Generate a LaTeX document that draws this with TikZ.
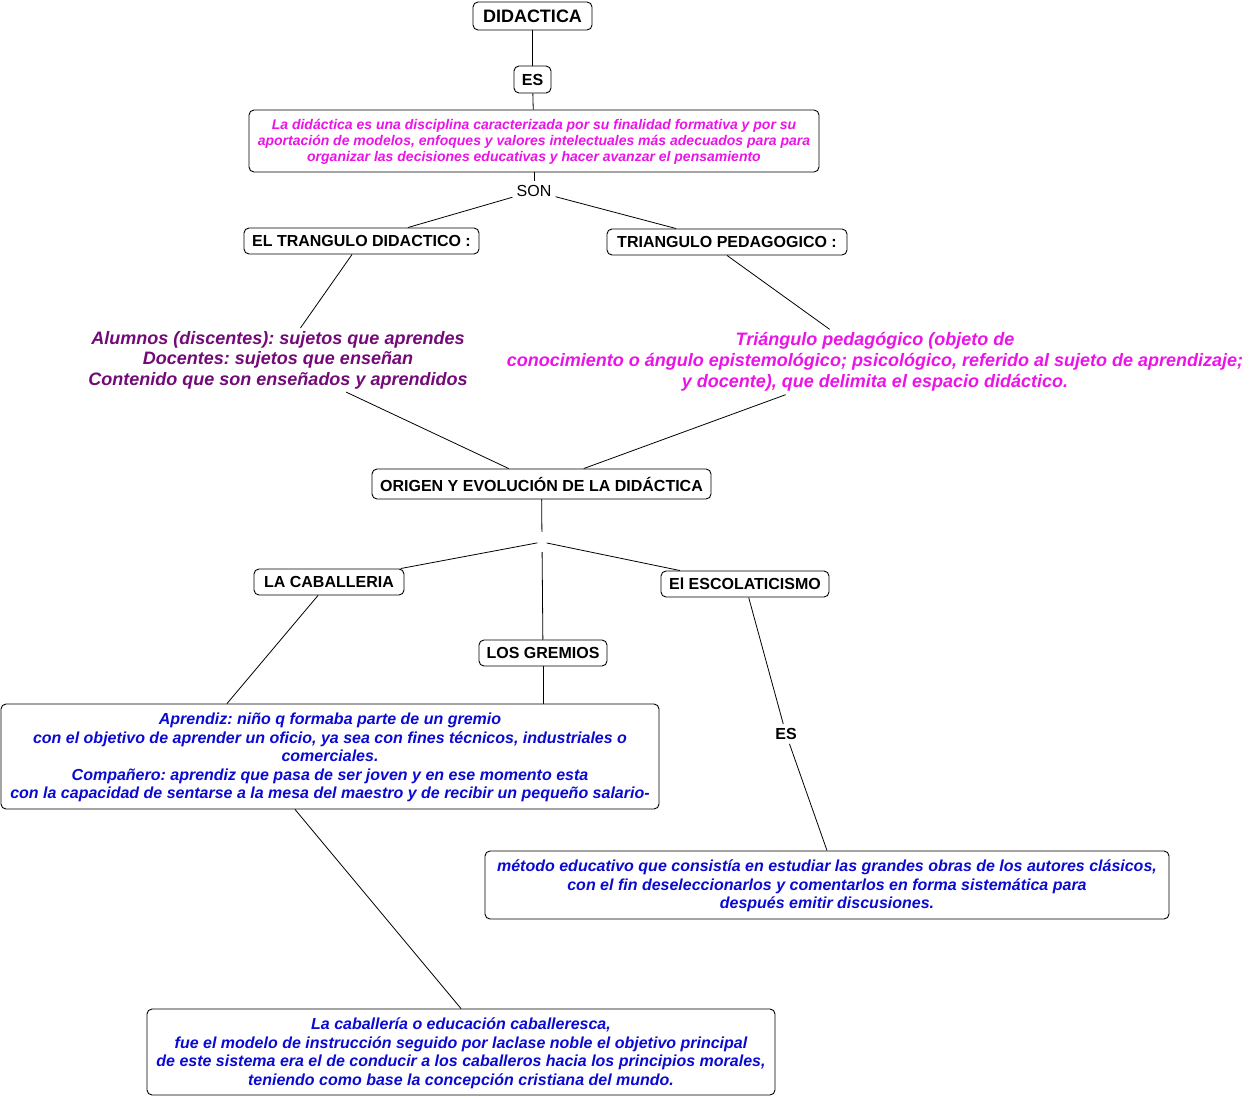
\documentclass[tikz,border=0pt]{standalone}
\usepackage{fontspec}
\setmainfont{Liberation Sans}
\frenchspacing
\definecolor{pinkc}{RGB}{235,20,230}
\definecolor{purp}{RGB}{115,10,120}
\definecolor{bluec}{RGB}{10,10,210}
\newcommand\topgap[1]{\rule{0pt}{#1}}
\tikzset{
  box/.style={draw, rounded corners=5pt, line width=0.9pt, inner sep=2pt, align=center, fill=white},
  lbl/.style={font=\fontsize{16}{19}\selectfont\bfseries},
  plain/.style={inner sep=3pt, align=center},
  link/.style={draw, line width=0.8pt},
  pinktxt/.style={text=pinkc, font=\fontsize{14}{16}\selectfont\bfseries\itshape},
  pinkbig/.style={text=pinkc, font=\fontsize{18}{21}\selectfont\bfseries\itshape},
  purptxt/.style={text=purp, font=\fontsize{18}{20.5}\selectfont\bfseries\itshape},
  bluetxt/.style={text=bluec, font=\fontsize{16}{18.5}\selectfont\bfseries\itshape},
}
\begin{document}
\begin{tikzpicture}[x=1pt,y=-1pt]
\useasboundingbox[fill=white] (0,0) rectangle (1252,1097);

\node[box, minimum width=119pt, minimum height=28pt, font=\fontsize{18}{20}\selectfont\bfseries] (did) at (532.5,16) {DIDACTICA};
\node[box, lbl, minimum width=37pt, minimum height=27pt] (es1) at (532.5,79.5) {ES};
\node[box, pinktxt, minimum width=570pt, minimum height=62pt] (def) at (534,141) {\topgap{12.5pt}La didáctica es una disciplina caracterizada por su finalidad formativa y por su\\aportación de modelos, enfoques y valores intelectuales más adecuados para para\\organizar las decisiones educativas y hacer avanzar el pensamiento};
\node[plain, font=\fontsize{16}{19}\selectfont, inner sep=4pt] (son) at (534,191) {SON};
\node[box, lbl, minimum width=235pt, minimum height=26pt] (tdid) at (361.5,241) {EL TRANGULO DIDACTICO :};
\node[box, lbl, minimum width=240pt, minimum height=26pt] (tped) at (727,242) {TRIANGULO PEDAGOGICO :};
\node[plain, purptxt] (alum) at (278,360) {Alumnos (discentes): sujetos que aprendes\\Docentes: sujetos que enseñan\\Contenido que son enseñados y aprendidos};
\node[plain, pinkbig] (tpt) at (875,362) {Triángulo pedagógico (objeto de\\conocimiento o ángulo epistemológico; psicológico, referido al sujeto de aprendizaje;\\y docente), que delimita el espacio didáctico.};
\node[box, lbl, minimum width=339pt, minimum height=30pt] (orig) at (541.5,484) {ORIGEN Y EVOLUCIÓN DE LA DIDÁCTICA};
\node[inner sep=0pt, minimum width=9pt, minimum height=20pt] (hub) at (542,542) {};
\node[box, lbl, minimum width=150pt, minimum height=26pt] (cab) at (329,582) {LA CABALLERIA};
\node[box, lbl, minimum width=128pt, minimum height=26pt] (gre) at (543,653) {LOS GREMIOS};
\node[box, lbl, minimum width=168pt, minimum height=26pt] (esco) at (745,584) {El ESCOLATICISMO};
\node[box, bluetxt, minimum width=658pt, minimum height=105pt] (apr) at (330,756.5) {\topgap{14pt}Aprendiz: niño q formaba parte de un gremio\\con el objetivo de aprender un oficio, ya sea con fines técnicos, industriales o\\comerciales.\\Compañero: aprendiz que pasa de ser joven y en ese momento esta\\con la capacidad de sentarse a la mesa del maestro y de recibir un pequeño salario-};
\node[plain, lbl, inner sep=4pt] (es2) at (786,734) {ES};
\node[box, bluetxt, minimum width=684pt, minimum height=68pt] (met) at (827,885) {\topgap{14pt}método educativo que consistía en estudiar las grandes obras de los autores clásicos,\\con el fin deseleccionarlos y comentarlos en forma sistemática para\\después emitir discusiones.};
\node[box, bluetxt, minimum width=628pt, minimum height=86pt] (cabt) at (461,1052) {\topgap{14pt}La caballería o educación caballeresca,\\fue el modelo de instrucción seguido por laclase noble el objetivo principal\\de este sistema era el de conducir a los caballeros hacia los principios morales,\\teniendo como base la concepción cristiana del mundo.};

\path[link] (did) -- (es1);
\path[link] (es1) -- (def);
\path[link] (def) -- (son);
\path[link] (son) -- (tdid);
\path[link] (son) -- (tped);
\path[link] (tdid) -- (alum);
\path[link] (tped.south) -- (tpt);
\path[link] (alum) -- (orig);
\path[link] (tpt) -- (orig);
\path[link] (orig) -- (hub);
\path[link] (hub) -- (cab);
\path[link] (hub) -- (gre);
\path[link] (hub) -- (esco);
\path[link] ([xshift=-11pt]cab.south) -- ([xshift=-103pt]apr.north);
\path[link] (gre) -- (gre |- apr.north);
\path[link] (esco) -- (es2);
\path[link] (es2) -- (met.north);
\path[link] ([xshift=-35pt]apr.south) -- (cabt.north);
\end{tikzpicture}
\end{document}
